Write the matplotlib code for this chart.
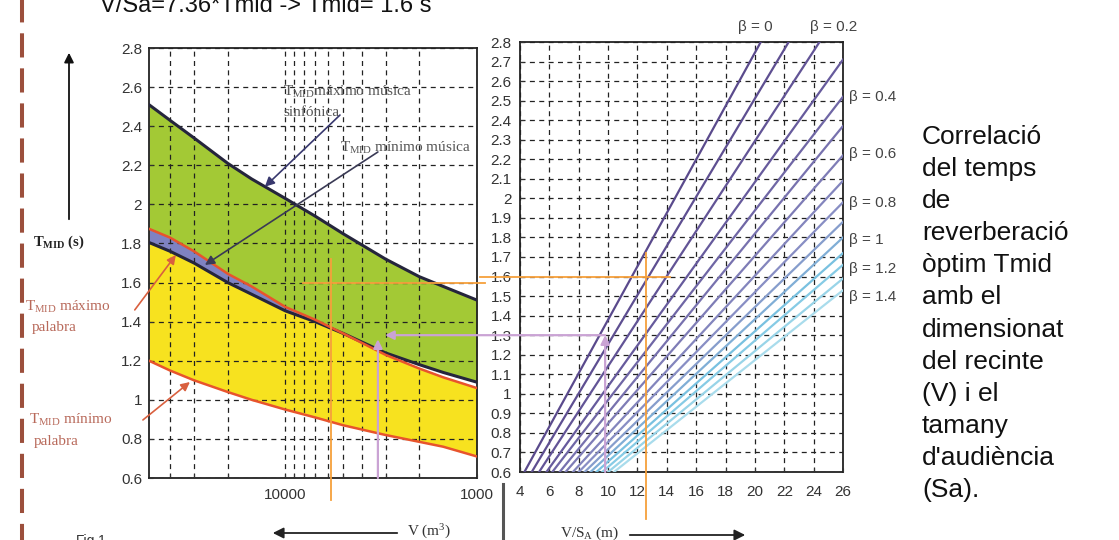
import numpy as np
import matplotlib
matplotlib.use('Agg')
import matplotlib.pyplot as plt
from matplotlib.ticker import FixedLocator, FuncFormatter, NullFormatter
import matplotlib.transforms as mtransforms
from matplotlib.lines import Line2D
from matplotlib.colors import LinearSegmentedColormap

plt.rcParams['font.family'] = ['Liberation Sans', 'DejaVu Sans']
plt.rcParams['mathtext.fontset'] = 'custom'
plt.rcParams['mathtext.rm'] = 'Liberation Serif'
plt.rcParams['mathtext.it'] = 'Liberation Serif:italic'
plt.rcParams['mathtext.bf'] = 'Liberation Serif:bold'

# ---------------- data ----------------
volume = [51500, 40000, 30000, 20000, 15000, 10000, 7000, 5000, 3000, 2000, 1500, 1000]
t_max_sinfonica = [2.51, 2.43, 2.34, 2.21, 2.13, 2.03, 1.94, 1.85, 1.72, 1.63, 1.58, 1.51]
t_min_musica = [1.805, 1.76, 1.70, 1.60, 1.54, 1.455, 1.40, 1.34, 1.24, 1.18, 1.14, 1.09]
t_max_palabra = [1.875, 1.83, 1.76, 1.645, 1.58, 1.475, 1.41, 1.34, 1.23, 1.16, 1.115, 1.06]
t_min_palabra = [1.20, 1.15, 1.10, 1.04, 1.00, 0.95, 0.91, 0.87, 0.82, 0.785, 0.76, 0.71]

beta = [0, 0.1, 0.2, 0.3, 0.4, 0.5, 0.6, 0.7, 0.8, 0.9, 1.0, 1.1, 1.2, 1.3, 1.4]
vs_start = [4.3, 4.8, 5.3, 5.8, 6.2, 6.7, 7.1, 7.6, 8.0, 8.4, 8.8, 9.2, 9.6, 10.0, 10.4]
t_start = [0.6] * 15
vs_end = [20.4, 22.3, 24.4, 26, 26, 26, 26, 26, 26, 26, 26, 26, 26, 26, 26]
t_end = [2.8, 2.8, 2.8, 2.71, 2.52, 2.37, 2.22, 2.09, 1.98, 1.88, 1.80, 1.72, 1.66, 1.59, 1.53]
beta_labels = ['β = 0', 'β = 0.2', 'β = 0.4', 'β = 0.6', 'β = 0.8', 'β = 1', 'β = 1.2', 'β = 1.4']

left_yticks = [0.6, 0.8, 1.0, 1.2, 1.4, 1.6, 1.8, 2.0, 2.2, 2.4, 2.6, 2.8]
left_xticks = [10000, 1000]
left_xminor = [2000, 3000, 4000, 5000, 6000, 7000, 8000, 9000, 20000, 30000, 40000]
right_xticks = [4, 6, 8, 10, 12, 14, 16, 18, 20, 22, 24, 26]
right_yticks = [0.6, 0.7, 0.8, 0.9, 1.0, 1.1, 1.2, 1.3, 1.4, 1.5, 1.6, 1.7, 1.8, 1.9,
                2.0, 2.1, 2.2, 2.3, 2.4, 2.5, 2.6, 2.7, 2.8]

# worked example (pink and orange guides)
ex_vs_pink, ex_t_pink = 9.8, 1.3
ex_v_pink_left, ex_v_pink_arrow, ex_t_pink_left = 3290, 3020, 1.31
ex_vs_orange, ex_t_orange = 12.6, 1.6
ex_v_orange_left = 5780

description = ['Correlació', 'del temps', 'de', 'reverberació', 'òptim Tmid', 'amb el',
               'dimensionat', 'del recinte', '(V) i el', 'tamany', "d'audiència", '(Sa).']

# ---------------- figure ----------------
W, H = 1119, 540
fig = plt.figure(figsize=(W / 100, H / 100), dpi=100)


def P(x, y):
    return (x / W, 1 - y / H)


ax_l = fig.add_axes([149 / W, 1 - 478 / H, (477 - 149) / W, (478 - 48) / H])
ax_r = fig.add_axes([520 / W, 1 - 472 / H, (843 - 520) / W, (472 - 42) / H])

green = '#a3c935'
yellow = '#f7e21f'
blue = '#7f82c2'
red = '#e8542c'
dark = '#25253c'
grid_kw = dict(color='#222222', lw=0.9, ls=(0, (4, 3.5)))
tick_color = '#333333'

# ---- left chart ----
ax_l.set_xscale('log')
ax_l.set_xlim(51500, 1000)
ax_l.set_ylim(0.6, 2.8)
tmax_p = np.array(t_max_palabra)
tmin_m = np.array(t_min_musica)
ax_l.fill_between(volume, t_min_musica, t_max_sinfonica, color=green, lw=0, zorder=1)
ax_l.fill_between(volume, t_min_palabra, t_max_palabra, color=yellow, lw=0, zorder=1.1)
ax_l.fill_between(volume, t_min_musica, t_max_palabra, where=tmax_p >= tmin_m,
                  interpolate=True, color=blue, lw=0, zorder=1.2)
ax_l.plot(volume, t_max_sinfonica, color=dark, lw=2.2, zorder=4)
ax_l.plot(volume, t_min_musica, color=dark, lw=2.2, zorder=4)
ax_l.plot(volume, t_max_palabra, color=red, lw=1.8, zorder=4.1)
ax_l.plot(volume, t_min_palabra, color=red, lw=1.8, zorder=4)

ax_l.xaxis.set_major_locator(FixedLocator(left_xticks))
ax_l.xaxis.set_major_formatter(FuncFormatter(lambda v, p: f'{v:.0f}'))
ax_l.xaxis.set_minor_locator(FixedLocator(left_xminor))
ax_l.xaxis.set_minor_formatter(NullFormatter())
ax_l.set_yticks(left_yticks)
ax_l.yaxis.set_major_formatter(FuncFormatter(lambda v, p: f'{v:g}'))
ax_l.set_axisbelow(False)
ax_l.grid(True, which='both', **grid_kw)
ax_l.tick_params(which='both', direction='in', length=3, colors=tick_color,
                 labelsize=11, width=0.8)
ax_l.tick_params(axis='y', pad=5)
ax_l.tick_params(axis='x', pad=7)
for s in ax_l.spines.values():
    s.set_linewidth(1.3)
    s.set_color('#222222')

# ---- right chart ----
ax_r.set_xlim(4, 26)
ax_r.set_ylim(0.6, 2.8)
cmap = LinearSegmentedColormap.from_list('beta', ['#5a4a8c', '#65589a', '#7c78b4',
                                                  '#8a92c6', '#78c4e2', '#a9dcec'])
for i, b in enumerate(beta):
    ax_r.plot([vs_start[i], vs_end[i]], [t_start[i], t_end[i]],
              color=cmap(i / (len(beta) - 1)), lw=1.6, zorder=4)
ax_r.set_xticks(right_xticks)
ax_r.set_yticks(right_yticks)
ax_r.yaxis.set_major_formatter(FuncFormatter(lambda v, p: f'{v:g}'))
ax_r.set_axisbelow(False)
ax_r.grid(True, **grid_kw)
ax_r.tick_params(direction='in', length=3, colors=tick_color, labelsize=11, width=0.8)
ax_r.tick_params(axis='y', pad=6)
ax_r.tick_params(axis='x', pad=9)
for s in ax_r.spines.values():
    s.set_linewidth(1.3)
    s.set_color('#222222')

# beta labels (left edge x, centre y in pixels)
blab_pos = [(738, 27), (810, 27), (849, 97), (849, 154), (849, 203), (849, 240),
            (849, 269), (849, 297)]
for lab, (x, y) in zip(beta_labels, blab_pos):
    fig.text(*P(x, y), lab, fontsize=11, color='#444444', ha='left', va='center')

# ---- worked-example guides ----
orange = '#f6a03c'
pink = '#caa3d4'
ax_l.plot([8100, 910], [ex_t_orange, ex_t_orange], color=orange, lw=1.3, clip_on=False, zorder=5)
ax_l.plot([ex_v_orange_left, ex_v_orange_left], [1.72, 0.49], color=orange, lw=1.3,
          clip_on=False, zorder=5)
ax_r.plot([1.3, 14.2], [ex_t_orange, ex_t_orange], color=orange, lw=1.3, clip_on=False, zorder=5)
ax_r.plot([ex_vs_orange, ex_vs_orange], [1.72, 0.36], color=orange, lw=1.3,
          clip_on=False, zorder=5)

arr = dict(arrowstyle='-|>', color=pink, lw=1.6, mutation_scale=13, shrinkA=0, shrinkB=0)
ax_r.annotate('', xy=(ex_vs_pink, ex_t_pink), xytext=(ex_vs_pink, 0.6),
              arrowprops=arr, annotation_clip=False, zorder=6)
blend = mtransforms.blended_transform_factory(ax_l.transData, ax_r.transData)
ax_r.annotate('', xy=(ex_v_pink_arrow, ex_t_pink), xycoords=blend,
              xytext=(ex_vs_pink, ex_t_pink), textcoords='data',
              arrowprops=arr, annotation_clip=False, zorder=6)
ax_l.annotate('', xy=(ex_v_pink_left, ex_t_pink_left), xytext=(ex_v_pink_left, 0.6),
              arrowprops=arr, annotation_clip=False, zorder=6)

# ---- curve annotations ----
serif = 'Liberation Serif'
gray_txt = '#555555'
brown_txt = '#b8695a'
fig.text(*P(283, 92), r'T$_{\rm MID}$máximo música', fontsize=11, family=serif,
         color=gray_txt, ha='left', va='center')
fig.text(*P(283, 113), 'sinfónica', fontsize=11, family=serif, color=gray_txt,
         ha='left', va='center')
fig.text(*P(340, 148), r'T$_{\rm MID}$ mínimo música', fontsize=11, family=serif,
         color=gray_txt, ha='left', va='center')
ax_l.annotate('', xy=(12800, 2.09), xytext=(5190, 2.457),
              arrowprops=dict(arrowstyle='-|>', color='#38386e', lw=1.2, mutation_scale=14,
                              shrinkA=0, shrinkB=0), zorder=6)
ax_l.annotate('', xy=(26300, 1.69), xytext=(3290, 2.268),
              arrowprops=dict(arrowstyle='-|>', color='#3a3a55', lw=1.2, mutation_scale=14,
                              shrinkA=0, shrinkB=0), zorder=6)
ax_l.annotate('', xy=(37300, 1.741), xytext=(61100, 1.46),
              arrowprops=dict(arrowstyle='-|>', color='#d9603f', lw=1.2, mutation_scale=13,
                              shrinkA=0, shrinkB=0), annotation_clip=False, zorder=6)
ax_l.annotate('', xy=(31500, 1.091), xytext=(55400, 0.897),
              arrowprops=dict(arrowstyle='-|>', color='#d9603f', lw=1.2, mutation_scale=13,
                              shrinkA=0, shrinkB=0), annotation_clip=False, zorder=6)

fig.text(*P(25, 307), r'T$_{\rm MID}$ máximo', fontsize=11, family=serif, color=brown_txt,
         ha='left', va='center')
fig.text(*P(32, 328), 'palabra', fontsize=11, family=serif, color=brown_txt,
         ha='left', va='center')
fig.text(*P(29, 420), r'T$_{\rm MID}$ mínimo', fontsize=11, family=serif, color=brown_txt,
         ha='left', va='center')
fig.text(*P(34, 441), 'palabra', fontsize=11, family=serif, color=brown_txt,
         ha='left', va='center')
fig.text(*P(33, 242), r'$\mathbf{T}_{\mathbf{MID}}$ (s)', fontsize=10.5, family=serif,
         weight='bold', color='#222222', ha='left', va='center')

# up arrow on the left
fig.add_artist(matplotlib.patches.FancyArrowPatch(P(69, 222), P(69, 50),
               transform=fig.transFigure, arrowstyle='-|>', mutation_scale=14,
               color='#111111', lw=1.3))
# dashed brown margin line
fig.add_artist(Line2D([22 / W, 22 / W], [0, 1], transform=fig.transFigure, color='#9c4f3c',
                      lw=2.9, ls=(2, (6, 2.7))))

# axis titles with arrows
fig.text(*P(407, 532), r'V (m$^3$)', fontsize=11, family=serif, color='#333333',
         ha='left', va='center')
fig.add_artist(matplotlib.patches.FancyArrowPatch(P(400, 533), P(270, 533),
               transform=fig.transFigure, arrowstyle='-|>', mutation_scale=16,
               color='#222222', lw=1.3))
fig.text(*P(560, 533), r'V/S$_{\rm A}$ (m)', fontsize=11, family=serif, color='#333333',
         ha='left', va='center')
fig.add_artist(matplotlib.patches.FancyArrowPatch(P(627, 535), P(748, 535),
               transform=fig.transFigure, arrowstyle='-|>', mutation_scale=16,
               color='#222222', lw=1.3))
fig.add_artist(Line2D([503 / W, 503 / W], [1 - 484 / H, 0], transform=fig.transFigure,
                      color='#555555', lw=2.2))
fig.text(*P(76, 534), 'Fig.1', fontsize=10, color='#333333', ha='left', va='top')

# header formula (cut at the top, as in the source)
fig.text(*P(100, 12), 'V/Sa=7.36*Tmid -> Tmid= 1.6 s', fontsize=17, color='#111111',
         ha='left', va='baseline')

# description on the right
for i, line in enumerate(description):
    fig.text(*P(922, 137 + i * 32.1), line, fontsize=19, color='#111111',
             ha='left', va='center')

fig.savefig('out.png', dpi=100)
